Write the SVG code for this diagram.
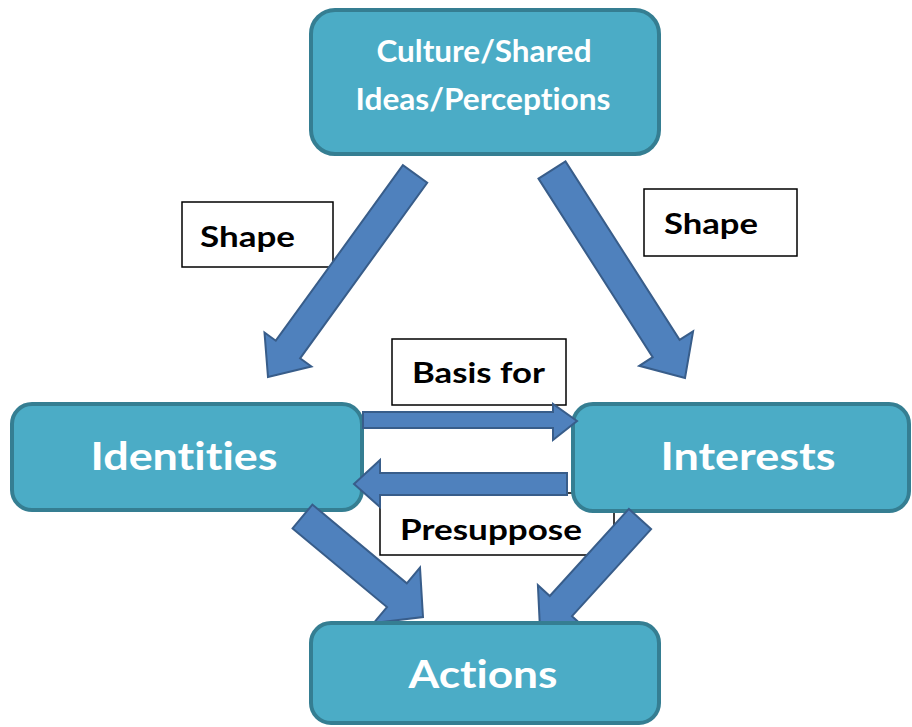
<svg xmlns="http://www.w3.org/2000/svg" width="912" height="727" viewBox="0 0 912 727">
<style>
.node{fill:#4BACC6;stroke:#357E92;stroke-width:4}
.ntext{font-family:Lato,"Open Sans","Liberation Sans",sans-serif;font-weight:bold;fill:#FFFFFF;text-anchor:middle;font-variant-ligatures:none}
.lbl{fill:#FFFFFF;stroke:#000000;stroke-width:1.5}
.ltext{font-family:Lato,"Open Sans","Liberation Sans",sans-serif;font-weight:bold;fill:#000000;font-size:28px;font-variant-ligatures:none}
.arr{fill:#4F81BD;stroke:#385D8A;stroke-width:2;stroke-linejoin:miter}
</style>
<rect width="912" height="727" fill="#FFFFFF"/>
<g id="label-shape-left">
<rect class="lbl" x="182" y="202" width="151" height="65"/>
<text class="ltext" x="200" y="247" textLength="95" lengthAdjust="spacingAndGlyphs">Shape</text>
</g>
<g id="label-shape-right">
<rect class="lbl" x="644" y="189" width="153" height="67"/>
<text class="ltext" x="664" y="234" textLength="94" lengthAdjust="spacingAndGlyphs">Shape</text>
</g>
<g id="label-basis">
<rect class="lbl" x="392" y="339" width="174" height="66"/>
<text class="ltext" x="412" y="383" textLength="133" lengthAdjust="spacingAndGlyphs">Basis for</text>
</g>
<g id="label-presuppose">
<rect class="lbl" x="380" y="493" width="234" height="62"/>
<text class="ltext" x="400" y="540" textLength="182" lengthAdjust="spacingAndGlyphs">Presuppose</text>
</g>
<g id="node-culture">
<rect class="node" x="311" y="10" width="348" height="144" rx="24"/>
<text class="ntext" x="484" y="62" font-size="30" textLength="215" lengthAdjust="spacingAndGlyphs">Culture/Shared</text>
<text class="ntext" x="483" y="110" font-size="30" textLength="255" lengthAdjust="spacingAndGlyphs">Ideas/Perceptions</text>
</g>
<g id="node-identities">
<rect class="node" x="12" y="404" width="350" height="106" rx="20"/>
<text class="ntext" x="184" y="470" font-size="39" textLength="187" lengthAdjust="spacingAndGlyphs">Identities</text>
</g>
<g id="node-interests">
<rect class="node" x="573" y="404" width="336" height="107" rx="20"/>
<text class="ntext" x="748" y="470" font-size="39" textLength="175" lengthAdjust="spacingAndGlyphs">Interests</text>
</g>
<g id="connectors">
<polygon class="arr" points="402.9,165.2 275.8,340.7 264.5,332.5 268,377 311.4,366.5 300.1,358.3 427.2,182.8"/>
<polygon class="arr" points="538.5,178.6 652.7,357.1 639.2,365.8 685,378 693.1,331.3 679.6,339.9 565.5,161.4"/>
<polygon class="arr" points="363,412 553,412 553,404 577,421 553,440 553,428 363,428"/>
<polygon class="arr" points="567,473 380,473 380,460 354,484 380,507 380,495 567,495"/>
<polygon class="arr" points="292.6,528.4 387,607.1 373.8,622.9 423,617 420,567.6 406.8,583.3 312.4,504.6"/>
<polygon class="arr" points="628.9,508.9 549.8,596 537.9,585.2 540,629 583.8,626.9 572,616.2 651.1,529.1"/>
</g>
<g id="node-actions">
<rect class="node" x="311" y="623" width="348" height="100" rx="20"/>
<text class="ntext" x="483" y="688" font-size="39" textLength="149" lengthAdjust="spacingAndGlyphs">Actions</text>
</g>
</svg>
